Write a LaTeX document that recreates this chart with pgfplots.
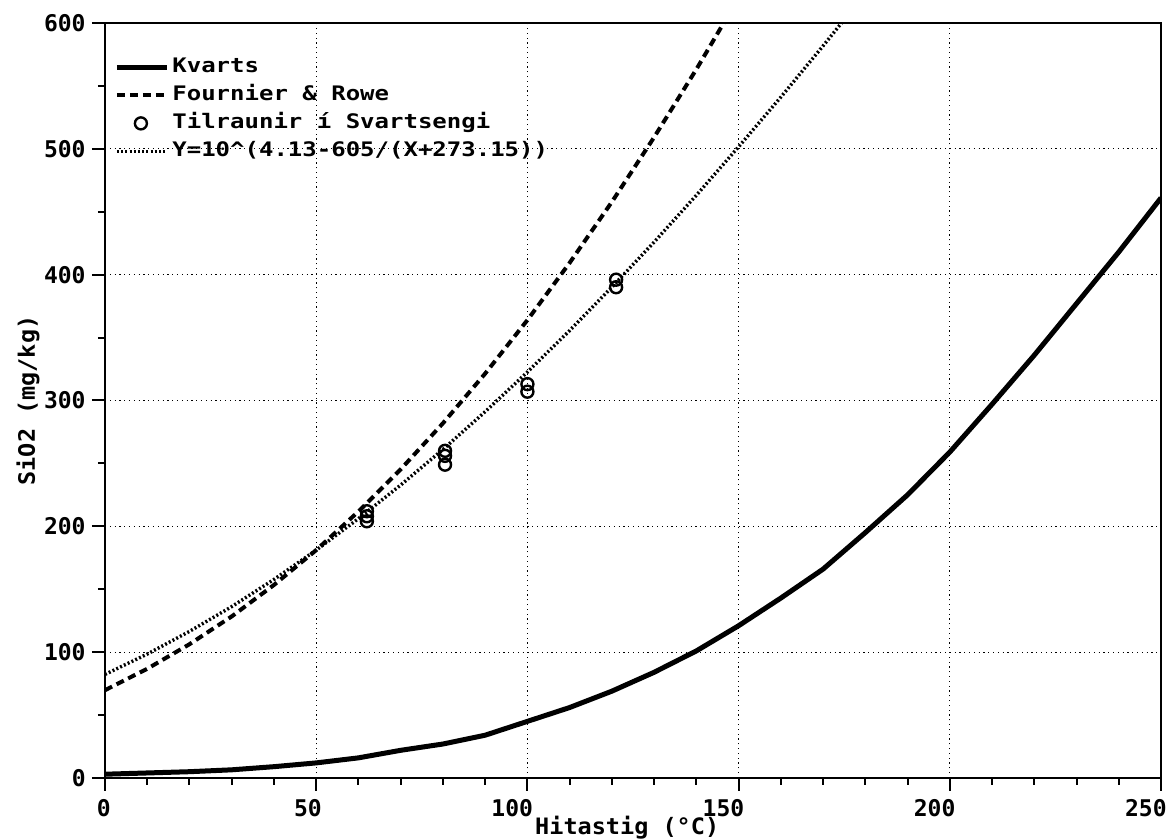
\documentclass[border=0pt]{standalone}
\usepackage{fontspec}
\usepackage{pgfplots}
\pgfplotsset{compat=1.18}
\setmainfont{DejaVu Sans Mono}
\newfontfamily\legfont[FakeStretch=1.2]{DejaVu Sans Mono Bold}
\newfontfamily\tickfont{DejaVu Sans Mono Bold}
\newfontfamily\labfont[FakeStretch=1.04]{DejaVu Sans Mono Bold}
\pgfplotsset{markleg/.style={legend image code/.code={\draw[mark repeat=2,mark phase=2,##1] plot coordinates {(0pt,0pt) (12pt,0pt) (24pt,0pt)};}}}

\begin{document}
\begin{tikzpicture}
\begin{axis}[
  scale only axis, width=528pt, height=377.5pt,
  xmin=0, xmax=250, ymin=0, ymax=600,
  xtick={0,50,...,250}, ytick={0,100,...,600},
  minor x tick num=4, minor y tick num=1,
  tick align=outside, tick pos=left,
  major tick length=6.5pt, minor tick length=3.5pt,
  grid=major,
  major grid style={black, line width=0.6pt, dash pattern=on 0.6pt off 1.8pt},
  axis line style={line width=1.2pt},
  every tick/.style={black, line width=1pt},
  /pgf/number format/assume math mode=true,
  ticklabel style={font=\tickfont\fontsize{11.5}{13}\selectfont},
  xticklabel style={anchor=north east, inner sep=0pt, xshift=3pt, yshift=-4pt},
  yticklabel style={anchor=east, inner sep=0pt, xshift=-3pt},
  xlabel={Hitastig (°C)},
  ylabel={SiO2 (mg/kg)},
  label style={font=\labfont\fontsize{11.3}{13}\selectfont},
  xlabel style={at={(axis description cs:0.4945,-0.0745)}, anchor=base, inner sep=0pt},
  ylabel style={at={(axis description cs:-0.0729,0.5)}, anchor=center, inner sep=0pt},
  legend style={at={(axis description cs:0,1)}, anchor=north west, xshift=4.5pt, yshift=-15pt,
    draw=none, fill=none, inner sep=0pt, row sep=0pt,
    font=\legfont\fontsize{10}{12}\selectfont,
    nodes={text height=8pt, text depth=3pt, inner ysep=1.5pt, inner xsep=0pt},
    /tikz/every odd column/.style={column sep=1.5pt}},
  legend cell align=left,
  legend image code/.code={\draw[#1] (0pt,0pt) -- (25pt,0pt);},
]
% Kvarts
\addplot[black, line width=2.5pt, line join=round] coordinates {
(0,3) (10,4) (20,5) (30,6.5) (40,9) (50,12) (60,16) (70,22) (80,27) (90,34)
(100,45) (110,56) (120,69) (130,84) (140,101) (150,121) (160,143) (170,166)
(180,195) (190,225) (200,259) (210,297) (220,336) (230,377) (240,418) (250,461)
};
\addlegendentry{Kvarts}
% Fournier & Rowe
\addplot[black, line width=2pt, dash pattern=on 4pt off 2.5pt] coordinates {
(0,69.8) (10,86.8) (20,106.3) (30,128.4) (40,153.4) (50,181.1) (60,211.8)
(70,245.3) (80,281.9) (90,321.4) (100,363.9) (110,409.4) (120,457.8)
(130,509.2) (140,563.2) (147,603)
};
\addlegendentry{Fournier \& Rowe}
% Measurements
\addplot[black, only marks, mark=o, mark size=3pt, mark options={line width=1.2pt}, markleg]
coordinates {
(62,212) (62,208) (62,204)
(80.5,260) (80.5,256) (80.5,249)
(100,313) (100,307)
(121,396) (121,390)
};
\addlegendentry{Tilraunir í Svartsengi}
% Fitted curve
\addplot[black, line width=1.7pt, dash pattern=on 1pt off 1.1pt] coordinates {
(0,82.3) (10,98.5) (20,116.5) (30,136.2) (40,157.8) (50,181.1) (60,206.1)
(70,232.8) (80,261.1) (90,291.1) (100,322.6) (110,355.6) (120,390.1)
(130,425.9) (140,463.1) (150,501.6) (160,541.1) (170,581.8) (176,606.8)
};
\addlegendentry{Y=10\textasciicircum(4.13-605/(X+273.15))}
\end{axis}
\pgfresetboundingbox
\path[use as bounding box] (-52.5pt,-30.5pt) rectangle (533.5pt,389pt);
\end{tikzpicture}
\end{document}
